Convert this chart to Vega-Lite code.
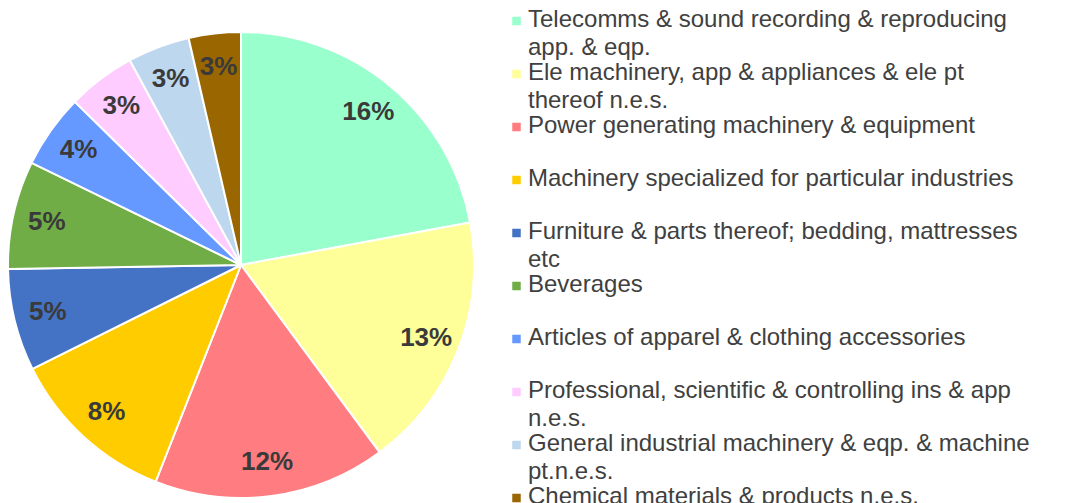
{
  "$schema": "https://vega.github.io/schema/vega-lite/v6.json",
  "width": 482,
  "height": 530,
  "padding": 0,
  "background": "white",
  "view": {"stroke": null},
  "config": {"style": {"guide-label": {"dy": 6, "lineHeight": 28}}},
  "data": {"values": [
    {"idx": 1, "name": "Telecomms & sound recording & reproducing\napp. & eqp.", "share": 0.159},
    {"idx": 2, "name": "Ele machinery, app & appliances & ele pt\nthereof n.e.s.", "share": 0.128},
    {"idx": 3, "name": "Power generating machinery & equipment", "share": 0.116},
    {"idx": 4, "name": "Machinery specialized for particular industries", "share": 0.084},
    {"idx": 5, "name": "Furniture & parts thereof; bedding, mattresses\netc", "share": 0.051},
    {"idx": 6, "name": "Beverages", "share": 0.054},
    {"idx": 7, "name": "Articles of apparel & clothing accessories", "share": 0.037},
    {"idx": 8, "name": "Professional, scientific & controlling ins & app\nn.e.s.", "share": 0.034},
    {"idx": 9, "name": "General industrial machinery & eqp. & machine\npt.n.e.s.", "share": 0.031},
    {"idx": 10, "name": "Chemical materials & products n.e.s.", "share": 0.026}
  ]},
  "encoding": {
    "theta": {"field": "share", "type": "quantitative", "stack": true},
    "order": {"field": "idx", "type": "quantitative"}
  },
  "layer": [
    {
      "mark": {"type": "arc", "outerRadius": 233, "stroke": "white", "strokeWidth": 2},
      "encoding": {
        "color": {
          "field": "name", "type": "nominal", "sort": null,
          "scale": {"range": ["#99FFCC", "#FFFF99", "#FF7C80", "#FFCC00", "#4472C4", "#70AD47", "#6699FF", "#FFCCFF", "#BDD7EE", "#996600"]},
          "legend": {
            "title": null,
            "orient": "none",
            "legendX": 504.5,
            "legendY": 8.1,
            "symbolType": "square",
            "symbolSize": 72,
            "symbolStrokeWidth": 0,
            "labelFont": "Liberation Sans",
            "labelFontSize": 24,
            "labelColor": "#404040",
            "labelLimit": 700,
            "labelOffset": -0.5,
            "labelBaseline": "alphabetic",
            "labelExpr": "split(datum.label, '\\n')",
            "clipHeight": 25.8,
            "gridAlign": "all",
            "rowPadding": 0
          }
        }
      }
    },
    {
      "mark": {"type": "text", "radius": 199, "font": "Liberation Sans", "fontSize": 26, "fontWeight": "bold", "fill": "#3a3a3a"},
      "encoding": {
        "detail": {"field": "name", "type": "nominal"},
        "text": {"field": "share", "type": "quantitative", "format": ".0%"}
      }
    }
  ]
}
